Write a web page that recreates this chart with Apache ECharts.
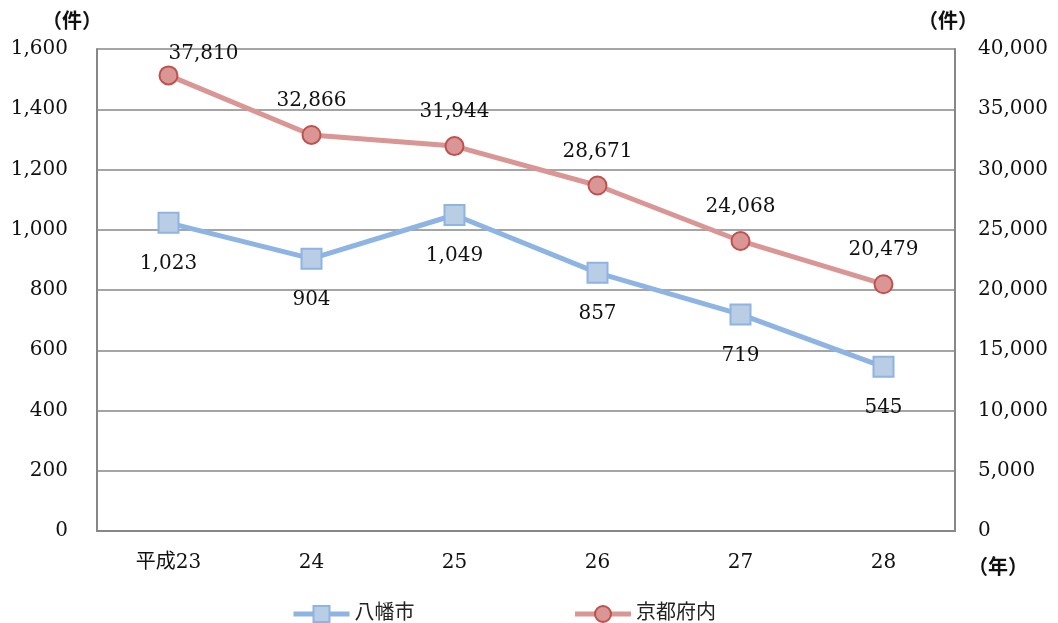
<!DOCTYPE html>
<html><head><meta charset="utf-8">
<script src="https://cdn.jsdelivr.net/npm/echarts@6/dist/echarts.min.js"></script>
<style>html,body{margin:0;padding:0;background:#fff}#c{width:1058px;height:623px}</style>
</head><body><div id="c"></div>
<script>
const categories = ['平成23', '24', '25', '26', '27', '28'];
const yawataValues = [1023, 904, 1049, 857, 719, 545];
const kyotoValues = [37810, 32866, 31944, 28671, 24068, 20479];
const seriesNames = ['八幡市', '京都府内'];

const FONT = '"DejaVu Serif", "Noto Sans CJK JP", serif';
const chart = echarts.init(document.getElementById('c'));
const kyotoData = kyotoValues.map((v, i) => i === 0 ? {value: v, label: {distance: 2, offset: [35, 0]}} : v);

chart.setOption({
  animation: false,
  textStyle: {fontFamily: FONT},
  grid: {left: 97, right: 103, top: 49, bottom: 92},
  legend: {
    left: 286, top: 599,
    itemWidth: 56, itemHeight: 20, itemGap: 158,
    lineStyle: {width: 5},
    textStyle: {fontFamily: FONT, fontSize: 20, color: '#222'},
    data: seriesNames
  },
  xAxis: {
    type: 'category', data: categories, boundaryGap: true,
    axisLine: {lineStyle: {color: '#878787', width: 2}},
    axisTick: {inside: true, length: 7, lineStyle: {color: '#878787', width: 2}},
    axisLabel: {fontFamily: FONT, fontSize: 20, color: '#111', margin: 22}
  },
  yAxis: [{
    type: 'value', min: 0, max: 1600, interval: 200,
    axisLine: {show: true, lineStyle: {color: '#878787', width: 2}},
    axisTick: {show: false},
    splitLine: {lineStyle: {color: '#878787', width: 1.5}},
    axisLabel: {fontFamily: FONT, fontSize: 20, color: '#111', margin: 29,
      formatter: v => v.toLocaleString('en-US')}
  }, {
    type: 'value', min: 0, max: 40000, interval: 5000,
    axisLine: {show: true, lineStyle: {color: '#878787', width: 2}},
    axisTick: {show: false},
    splitLine: {show: false},
    axisLabel: {fontFamily: FONT, fontSize: 20, color: '#111', margin: 23,
      formatter: v => v.toLocaleString('en-US')}
  }],
  graphic: [
    {type: 'text', left: 42, top: 10, style: {text: '（件）', font: 'bold 20px "Noto Sans CJK JP"', fill: '#111'}},
    {type: 'text', left: 918, top: 10, style: {text: '（件）', font: 'bold 20px "Noto Sans CJK JP"', fill: '#111'}},
    {type: 'text', left: 968, top: 556, style: {text: '（年）', font: 'bold 20px "Noto Sans CJK JP"', fill: '#111'}}
  ],
  series: [{
    name: seriesNames[0], type: 'line', yAxisIndex: 0, data: yawataValues,
    symbol: 'rect', symbolSize: 20,
    lineStyle: {color: '#8DB4E2', width: 5},
    itemStyle: {color: '#B9CDE5', borderColor: '#8DB4E2', borderWidth: 2},
    label: {show: true, position: 'bottom', distance: 20, fontFamily: FONT, fontSize: 20, color: '#111',
      formatter: p => p.value.toLocaleString('en-US')},
    z: 3
  }, {
    name: seriesNames[1], type: 'line', yAxisIndex: 1, data: kyotoData,
    symbol: 'circle', symbolSize: 18,
    lineStyle: {color: '#D99694', width: 5},
    itemStyle: {color: '#D99694', borderColor: '#C0504D', borderWidth: 2},
    label: {show: true, position: 'top', distance: 14, fontFamily: FONT, fontSize: 20, color: '#111',
      formatter: p => p.value.toLocaleString('en-US')},
    z: 3
  }]
});
</script></body></html>
